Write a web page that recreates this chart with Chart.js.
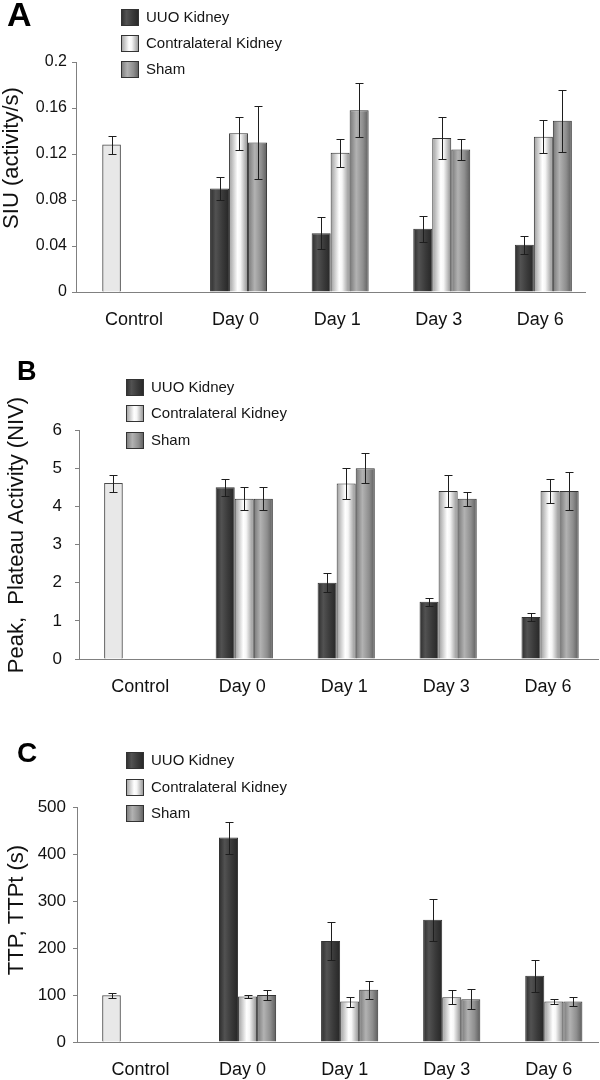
<!DOCTYPE html>
<html>
<head>
<meta charset="utf-8">
<script src="https://cdn.jsdelivr.net/npm/chart.js@4.4.1/dist/chart.umd.min.js"></script>
<style>
    html, body { margin: 0; padding: 0; background: #fff; }
    #wrap { position: relative; width: 600px; height: 1080px; }
    canvas { position: absolute; left: 0; }
</style>
</head>
<body>
<div id="wrap">
    <canvas id="chartA" width="600" height="340" style="top:0px"></canvas>
    <canvas id="chartB" width="600" height="360" style="top:340px"></canvas>
    <canvas id="chartC" width="600" height="380" style="top:700px"></canvas>
</div>
<script>
// categories and series names

const categories = ['Control', 'Day 0', 'Day 1', 'Day 3', 'Day 6'];
const seriesNames = ['UUO Kidney', 'Contralateral Kidney', 'Sham'];

// panel A : SIU (activity/s)

const siuControl = [0.128];
const siuControlErr = [0.008];
const siuUuo = [0.090, 0.051, 0.055, 0.041];
const siuUuoErr = [0.010, 0.014, 0.0115, 0.008];
const siuContra = [0.138, 0.121, 0.134, 0.135];
const siuContraErr = [0.0145, 0.012, 0.018, 0.0145];
const siuSham = [0.130, 0.158, 0.124, 0.149];
const siuShamErr = [0.032, 0.0235, 0.009, 0.027];
const siuTicks = [0, 0.04, 0.08, 0.12, 0.16, 0.2];

// panel B : peak, plateau activity (NIV)

const peakControl = [4.6];
const peakControlErr = [0.22];
const peakUuo = [4.5, 2.0, 1.5, 1.1];
const peakUuoErr = [0.22, 0.25, 0.1, 0.1];
const peakContra = [4.2, 4.6, 4.4, 4.4];
const peakContraErr = [0.3, 0.4, 0.42, 0.31];
const peakSham = [4.2, 5.0, 4.2, 4.4];
const peakShamErr = [0.3, 0.4, 0.18, 0.5];
const peakTicks = [0, 1, 2, 3, 4, 5, 6];

// panel C : TTP, TTPt (s)

const ttpControl = [99];
const ttpControlErr = [5];
const ttpUuo = [435, 215, 260, 141];
const ttpUuoErr = [34, 40, 45, 34];
const ttpContra = [97, 86, 95, 86];
const ttpContraErr = [4, 10.5, 15, 4.5];
const ttpSham = [100, 111, 91, 86];
const ttpShamErr = [11, 18.5, 21, 9.5];
const ttpTicks = [0, 100, 200, 300, 400, 500];

const FONT = '"Liberation Sans", Arial, Helvetica, sans-serif';

// cylinder-like shading of the bars, one per series

const shades = [
    [[0, '#2c2c2c'], [0.3, '#525252'], [0.65, '#3a3a3a'], [1, '#262626']],
    [[0, '#9c9c9c'], [0.45, '#ffffff'], [0.6, '#f6f6f6'], [1, '#8c8c8c']],
    [[0, '#777777'], [0.35, '#b2b2b2'], [0.7, '#8e8e8e'], [1, '#5c5c5c']]
];
const flatColors = ['#3a3a3a', '#e6e6e6', '#999999'];

function makeGradient(ctx, x0, x1, stops) {
    const g = ctx.createLinearGradient(x0, 0, x1, 0);
    stops.forEach(s => g.addColorStop(s[0], s[1]));
    return g;
}

function shadedFill(k) {
    return (c) => {
        const el = c.element;
        if (!el || el.x === undefined || !el.width) { return flatColors[k]; }
        return makeGradient(c.chart.ctx, el.x - el.width / 2, el.x + el.width / 2, shades[k]);
    };
}

// error bars drawn from each dataset's "errors" list

const errorBars = {
    id: 'errorBars',
    afterDatasetsDraw(chart) {
        const ctx = chart.ctx;
        const y = chart.scales.y;
        ctx.save();
        ctx.strokeStyle = '#1e1e1e';
        ctx.lineWidth = 1;
        chart.data.datasets.forEach((ds, di) => {
            chart.getDatasetMeta(di).data.forEach((bar, i) => {
                const pt = ds.data[i];
                const err = ds.errors[i];
                const x = Math.round(bar.x) + 0.5;
                const top = Math.round(y.getPixelForValue(pt.y + err)) + 0.5;
                const bot = Math.round(y.getPixelForValue(pt.y - err)) + 0.5;
                ctx.beginPath();
                ctx.moveTo(x, top); ctx.lineTo(x, bot);
                ctx.moveTo(x - 4, top); ctx.lineTo(x + 4, top);
                ctx.moveTo(x - 4, bot); ctx.lineTo(x + 4, bot);
                ctx.stroke();
            });
        });
        ctx.restore();
    }
};

// panel letter, rotated y title and the legend box

const panelDeco = {
    id: 'panelDeco',
    afterDraw(chart, args, o) {
        const ctx = chart.ctx;

        ctx.save();
        ctx.fillStyle = '#000';
        ctx.font = 'bold ' + o.letterSize + 'px ' + FONT;
        ctx.textBaseline = 'alphabetic';
        ctx.textAlign = 'left';
        ctx.fillText(o.letter, o.letterX, o.letterY);

        ctx.font = '22px ' + FONT;
        ctx.fillStyle = '#111';
        ctx.translate(o.titleX, o.titleY);
        ctx.rotate(-Math.PI / 2);
        ctx.textAlign = 'center';
        ctx.textBaseline = 'middle';
        ctx.fillText(o.title, 0, 0);
        ctx.restore();

        ctx.save();
        ctx.font = '15px ' + FONT;
        ctx.textBaseline = 'middle';
        ctx.textAlign = 'left';
        seriesNames.forEach((name, k) => {
            const bx = o.legendX;
            const by = Math.round(o.legendY + k * o.legendGap);
            ctx.fillStyle = makeGradient(ctx, bx, bx + 18, shades[k]);
            ctx.fillRect(bx, by, 18, 17);
            ctx.strokeStyle = '#333';
            ctx.lineWidth = 1;
            ctx.strokeRect(bx + 0.5, by + 0.5, 17, 16);
            ctx.fillStyle = '#151515';
            ctx.fillText(name, bx + 25, by + 9);
        });
        ctx.restore();
    }
};

function dayPoints(values) {
    return values.map((v, i) => ({ x: i + 1, y: v }));
}

function buildPanel(canvasId, d, lay) {

    const seriesData = [d.uuo, d.contra, d.sham];
    const seriesErr = [d.uuoErr, d.contraErr, d.shamErr];

    const datasets = [{
        label: 'Control',
        data: d.control.map(v => ({ x: lay.controlX, y: v })),
        errors: d.controlErr,
        grouped: false,
        barThickness: 18,
        backgroundColor: '#e8e8e8',
        borderColor: '#4a4a4a',
        borderWidth: 1
    }];

    seriesNames.forEach((name, k) => {
        datasets.push({
            label: name,
            data: dayPoints(seriesData[k]),
            errors: seriesErr[k],
            backgroundColor: shadedFill(k),
            borderColor: '#333',
            borderWidth: 1,
            categoryPercentage: lay.catPct,
            barPercentage: 1
        });
    });

    const chart = new Chart(document.getElementById(canvasId), {
        type: 'bar',
        data: { datasets: datasets },
        options: {
            responsive: false,
            animation: false,
            events: [],
            devicePixelRatio: 1,
            layout: { padding: { top: lay.top, right: lay.right, left: 0, bottom: 0 } },
            plugins: {
                legend: { display: false },
                tooltip: { enabled: false },
                panelDeco: lay.deco
            },
            scales: {
                x: {
                    type: 'linear',
                    min: lay.xMin,
                    max: lay.xMax,
                    offset: false,
                    bounds: 'data',
                    afterBuildTicks: (s) => { s.ticks = categories.map((c, i) => ({ value: i })); },
                    afterFit: (s) => { s.height = lay.xHeight; },
                    grid: { display: false, drawTicks: false, offset: false },
                    border: { display: true, color: '#808080', width: 1 },
                    ticks: {
                        autoSkip: false,
                        maxRotation: 0,
                        padding: 17,
                        labelOffset: lay.labelOffset,
                        color: '#111',
                        font: { family: FONT, size: 18 },
                        callback: (v) => categories[v]
                    }
                },
                y: {
                    min: 0,
                    max: d.ticks[d.ticks.length - 1],
                    afterBuildTicks: (s) => { s.ticks = d.ticks.map(v => ({ value: v })); },
                    afterFit: (s) => { s.width = lay.yWidth; },
                    grid: { drawOnChartArea: false, drawTicks: true, tickLength: 4, color: '#808080' },
                    border: { display: true, color: '#808080', width: 1 },
                    ticks: {
                        padding: lay.tickPad,
                        color: '#111',
                        font: { family: FONT, size: lay.tickSize },
                        callback: (v) => String(v)
                    }
                }
            }
        },
        plugins: [errorBars, panelDeco]
    });

    // second pass so the bar gradients know their positions
    chart.update();
    return chart;
}

buildPanel('chartA', {
    control: siuControl, controlErr: siuControlErr,
    uuo: siuUuo, uuoErr: siuUuoErr,
    contra: siuContra, contraErr: siuContraErr,
    sham: siuSham, shamErr: siuShamErr,
    ticks: siuTicks
}, {
    top: 62, right: 15, yWidth: 76, xHeight: 48,
    xMin: -0.6, xMax: 4.41, controlX: -0.25, catPct: 0.561, labelOffset: -3,
    tickPad: 5, tickSize: 16,
    deco: {
        letter: 'A', letterSize: 34, letterX: 7, letterY: 26,
        title: 'SIU (activity/s)', titleX: 12, titleY: 158,
        legendX: 121, legendY: 9, legendGap: 26
    }
});

buildPanel('chartB', {
    control: peakControl, controlErr: peakControlErr,
    uuo: peakUuo, uuoErr: peakUuoErr,
    contra: peakContra, contraErr: peakContraErr,
    sham: peakSham, shamErr: peakShamErr,
    ticks: peakTicks
}, {
    top: 90, right: 2, yWidth: 79, xHeight: 41,
    xMin: -0.621, xMax: 4.47, controlX: -0.283, catPct: 0.561, labelOffset: -2,
    tickPad: 13, tickSize: 17,
    deco: {
        letter: 'B', letterSize: 27, letterX: 17, letterY: 40,
        title: 'Peak,  Plateau Activity (NIV)', titleX: 17, titleY: 195,
        legendX: 126, legendY: 39, legendGap: 26.3
    }
});

buildPanel('chartC', {
    control: ttpControl, controlErr: ttpControlErr,
    uuo: ttpUuo, uuoErr: ttpUuoErr,
    contra: ttpContra, contraErr: ttpContraErr,
    sham: ttpSham, shamErr: ttpShamErr,
    ticks: ttpTicks
}, {
    top: 107, right: 2, yWidth: 77, xHeight: 38,
    xMin: -0.671, xMax: 4.433, controlX: -0.333, catPct: 0.56, labelOffset: -5,
    tickPad: 7, tickSize: 17,
    deco: {
        letter: 'C', letterSize: 28, letterX: 17, letterY: 62,
        title: 'TTP, TTPt (s)', titleX: 17, titleY: 210,
        legendX: 126, legendY: 52, legendGap: 26.5
    }
});
</script>
</body>
</html>
